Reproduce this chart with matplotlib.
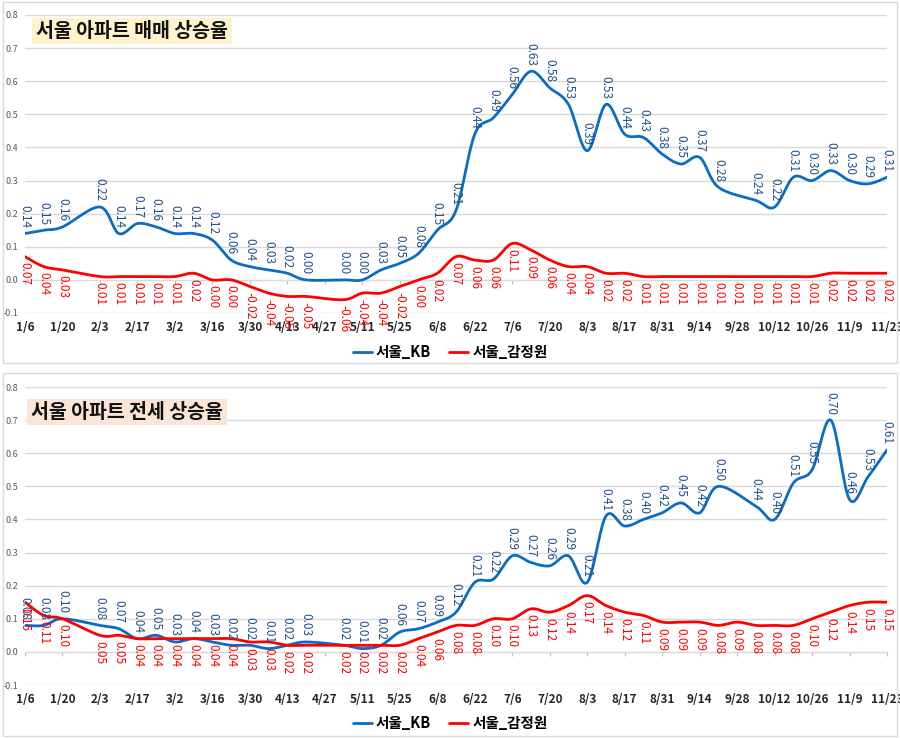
import numpy as np
import matplotlib
matplotlib.use("Agg")
import matplotlib.pyplot as plt
from matplotlib.patches import Rectangle

plt.rcParams['font.family'] = ['Noto Sans CJK KR', 'DejaVu Sans']

# weekly dates, 2020-01-06 .. 2020-11-23 (None = no survey that week)
weeks = ['1/6', '1/13', '1/20', '1/27', '2/3', '2/10', '2/17', '2/24', '3/2', '3/9',
         '3/16', '3/23', '3/30', '4/6', '4/13', '4/20', '4/27', '5/4', '5/11', '5/18',
         '5/25', '6/1', '6/8', '6/15', '6/22', '6/29', '7/6', '7/13', '7/20', '7/27',
         '8/3', '8/10', '8/17', '8/24', '8/31', '9/7', '9/14', '9/21', '9/28', '10/5',
         '10/12', '10/19', '10/26', '11/2', '11/9', '11/16', '11/23']

sale_kb = [0.14, 0.15, 0.16, None, 0.22, 0.14, 0.17, 0.16, 0.14, 0.14,
           0.12, 0.06, 0.04, 0.03, 0.02, 0.00, None, 0.00, 0.00, 0.03,
           0.05, 0.08, 0.15, 0.21, 0.44, 0.49, 0.56, 0.63, 0.58, 0.53,
           0.39, 0.53, 0.44, 0.43, 0.38, 0.35, 0.37, 0.28, None, 0.24,
           0.22, 0.31, 0.30, 0.33, 0.30, 0.29, 0.31]
sale_reb = [0.07, 0.04, 0.03, None, 0.01, 0.01, 0.01, 0.01, 0.01, 0.02,
            0.00, 0.00, -0.02, -0.04, -0.05, -0.05, None, -0.06, -0.04, -0.04,
            -0.02, 0.00, 0.02, 0.07, 0.06, 0.06, 0.11, 0.09, 0.06, 0.04,
            0.04, 0.02, 0.02, 0.01, 0.01, 0.01, 0.01, 0.01, 0.01, 0.01,
            0.01, 0.01, 0.01, 0.02, 0.02, 0.02, 0.02]

jeonse_kb = [0.08, 0.08, 0.10, None, 0.08, 0.07, 0.04, 0.05, 0.03, 0.04,
             0.03, 0.02, 0.02, 0.01, 0.02, 0.03, None, 0.02, 0.01, 0.02,
             0.06, 0.07, 0.09, 0.12, 0.21, 0.22, 0.29, 0.27, 0.26, 0.29,
             0.21, 0.41, 0.38, 0.40, 0.42, 0.45, 0.42, 0.50, None, 0.44,
             0.40, 0.51, 0.55, 0.70, 0.46, 0.53, 0.61]
jeonse_reb = [0.15, 0.11, 0.10, None, 0.05, 0.05, 0.04, 0.04, 0.04, 0.04,
              0.04, 0.04, 0.03, 0.03, 0.02, 0.02, None, 0.02, 0.02, 0.02,
              0.02, 0.04, 0.06, 0.08, 0.08, 0.10, 0.10, 0.13, 0.12, 0.14,
              0.17, 0.14, 0.12, 0.11, 0.09, 0.09, 0.09, 0.08, 0.09, 0.08,
              0.08, 0.08, 0.10, 0.12, 0.14, 0.15, 0.15]

panels = [
    ('서울 아파트 매매 상승율', '#FFF2CC', sale_kb, sale_reb),
    ('서울 아파트 전세 상승율', '#FBE5D6', jeonse_kb, jeonse_reb),
]

BLUE = '#0A6CC2'
RED = '#FF0000'
BLUE_TXT = '#1F4E8C'
GRID = '#D9D9D9'


def smooth(xs, ys, n=20):
    # Excel-like smoothed line (Catmull-Rom bezier through the points)
    xs = np.asarray(xs, float)
    ys = np.asarray(ys, float)
    px, py = [xs[0]], [ys[0]]
    t = np.linspace(0, 1, n)[1:]
    for i in range(len(xs) - 1):
        i0, i3 = max(i - 1, 0), min(i + 2, len(xs) - 1)
        p0 = np.array([xs[i], ys[i]])
        p3 = np.array([xs[i + 1], ys[i + 1]])
        c1 = p0 + (p3 - np.array([xs[i0], ys[i0]])) / 6
        c2 = p3 - (np.array([xs[i3], ys[i3]]) - p0) / 6
        b = ((1 - t) ** 3)[:, None] * p0 + (3 * (1 - t) ** 2 * t)[:, None] * c1 \
            + (3 * (1 - t) * t ** 2)[:, None] * c2 + (t ** 3)[:, None] * p3
        px.extend(b[:, 0])
        py.extend(b[:, 1])
    return px, py


def draw_series(ax, values, color, txt_color, above):
    x = [i for i, v in enumerate(values) if v is not None]
    y = [v for v in values if v is not None]
    sx, sy = smooth(x, y)
    line, = ax.plot(sx, sy, color=color, lw=2.0, solid_capstyle='round', zorder=3)
    for xi, yi in zip(x, y):
        ax.annotate(f'{yi:.2f}', (xi, yi), xytext=(0, 4 if above else -4),
                    textcoords='offset points', rotation=-90, ha='center',
                    va='bottom' if above else 'top', fontsize=8.5,
                    color=txt_color, zorder=4)
    return line


fig = plt.figure(figsize=(9, 7.38), dpi=100)

# panel frames
fig.patches.append(Rectangle((0.003, 0.508), 0.994, 0.489, transform=fig.transFigure,
                             fill=False, ec=GRID, lw=1))
fig.patches.append(Rectangle((0.003, 0.003), 0.994, 0.491, transform=fig.transFigure,
                             fill=False, ec=GRID, lw=1))

axes_pos = [[0.0278, 0.5759, 0.9578, 0.4038], [0.0278, 0.0718, 0.9578, 0.4038]]
title_pos = [(0.0128, 0.946), (0.007, 0.916)]
legend_y = [0.523, 0.0203]
xt = list(range(0, len(weeks), 2))

for k, (title, tcolor, kb, reb) in enumerate(panels):
    ax = fig.add_axes(axes_pos[k])
    ax.set_xlim(0, len(weeks) - 1)
    ax.set_ylim(-0.1, 0.8)
    yt = np.round(np.arange(-0.1, 0.81, 0.1), 1)
    ax.set_yticks(yt)
    ax.set_yticklabels([f'{v:.1f}' for v in yt])
    ax.grid(axis='y', color=GRID, lw=1)
    ax.set_axisbelow(True)
    for s in ax.spines.values():
        s.set_visible(False)
    ax.set_xticks(xt)
    ax.set_xticklabels([weeks[i] for i in xt], fontsize=8.5, fontweight='bold', color='#262626')
    ax.tick_params(axis='x', length=0, pad=6)
    ax.tick_params(axis='y', length=0, pad=5, labelsize=6.5, labelcolor='#595959')

    # category axis at zero with small tick marks
    sec = ax.secondary_xaxis(1 / 9)
    sec.spines['bottom'].set_color(GRID)
    sec.set_xticks(xt)
    sec.set_xticklabels([])
    sec.tick_params(length=3, color='#BFBFBF')

    l1 = draw_series(ax, kb, BLUE, BLUE_TXT, True)
    l2 = draw_series(ax, reb, RED, RED, False)

    ax.text(title_pos[k][0], title_pos[k][1], title, transform=ax.transAxes,
            fontsize=14, fontweight='bold', va='center', ha='left', color='#111111',
            bbox=dict(boxstyle='square,pad=0.2', fc=tcolor, ec='none'), zorder=5)

    fig.legend([l1, l2], ['서울_KB', '서울_감정원'], loc='center', ncol=2,
               bbox_to_anchor=(0.5, legend_y[k]), frameon=False,
               handlelength=1.3, handletextpad=0.3, columnspacing=1.2,
               prop={'weight': 'bold', 'size': 10.5})

fig.savefig('out.png', dpi=100)
